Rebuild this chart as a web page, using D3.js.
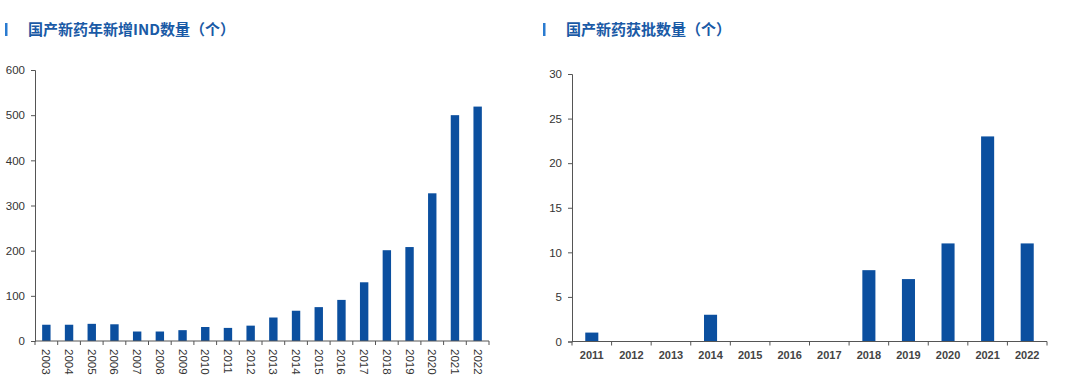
<!DOCTYPE html>
<html>
<head>
<meta charset="utf-8">
<script src="https://cdn.jsdelivr.net/npm/d3@7"></script>
<style>
  body { margin: 0; background: #fff; }
  svg text { font-family: Arial, "Liberation Sans", sans-serif; }
  .title { font-family: "Noto Sans CJK SC", sans-serif; font-weight: bold; font-size: 15px; fill: #1a5aa6; }
  .axis path, .axis line { stroke: #555; }
  .axis text { fill: #333; font-size: 11.5px; }
</style>
</head>
<body>
<svg id="chart" width="1080" height="384"></svg>
<script>
// left chart: new IND counts
const indYears = ['2003','2004','2005','2006','2007','2008','2009','2010','2011','2012',
                  '2013','2014','2015','2016','2017','2018','2019','2020','2021','2022'];
const indValues = [36, 36, 38, 37, 21, 21, 24, 31, 29, 34, 52, 67, 75, 91, 130, 201, 208, 327, 500, 519];
const indTicks = [0, 100, 200, 300, 400, 500, 600];

// right chart: approvals
const apprYears = ['2011','2012','2013','2014','2015','2016','2017','2018','2019','2020','2021','2022'];
const apprValues = [1, 0, 0, 3, 0, 0, 0, 8, 7, 11, 23, 11];
const apprTicks = [0, 5, 10, 15, 20, 25, 30];

const svg = d3.select('#chart');
const barColor = '#0b4f9f';

function drawChart(opt) {
    let g = svg.append('g');

    // title with small marker bar
    g.append('rect')
        .attr('x', opt.titleX - 23).attr('y', 23)
        .attr('width', 2.5).attr('height', 13)
        .attr('fill', '#2a7bd0');
    g.append('text')
        .classed('title', true)
        .attr('x', opt.titleX).attr('y', 35)
        .text(opt.title);

    let x = d3.scaleBand()
        .domain(opt.cats)
        .range([opt.left, opt.right])
        .paddingInner(opt.pad).paddingOuter(opt.pad / 2);

    let y = d3.scaleLinear()
        .domain([0, d3.max(opt.ticks)])
        .range([opt.bottom, opt.top]);

    g.selectAll('rect.bar')
        .data(opt.values)
        .join('rect')
        .classed('bar', true)
        .attr('x', (d, i) => x(opt.cats[i]))
        .attr('y', d => y(d))
        .attr('width', x.bandwidth())
        .attr('height', d => opt.bottom - y(d))
        .attr('fill', barColor);

    // y axis
    let yAxis = g.append('g')
        .classed('axis', true)
        .attr('transform', `translate(${opt.left},0)`)
        .call(d3.axisLeft(y).tickValues(opt.ticks).tickSize(4).tickSizeOuter(4));
    yAxis.selectAll('text').attr('dx', '-3');

    // x axis: ticks between categories
    let step = x.step();
    let xg = g.append('g')
        .classed('axis', true)
        .attr('transform', `translate(0,${opt.bottom})`);
    xg.append('line')
        .attr('x1', opt.left).attr('x2', opt.right)
        .attr('stroke', '#555');
    xg.selectAll('line.tk')
        .data(d3.range(opt.cats.length + 1))
        .join('line')
        .classed('tk', true)
        .attr('x1', i => opt.left + i * step)
        .attr('x2', i => opt.left + i * step)
        .attr('y2', 4)
        .attr('stroke', '#555');

    let labels = xg.selectAll('text')
        .data(opt.cats)
        .join('text')
        .style('font-size', opt.rotate ? '11.5px' : '11px')
        .style('fill', '#333')
        .text(d => d);

    if (opt.rotate) {
        labels
            .attr('transform', d => `translate(${x(d) + x.bandwidth() / 2},8) rotate(90)`)
            .attr('text-anchor', 'start')
            .attr('dy', '0.35em');
    } else {
        labels
            .attr('x', d => x(d) + x.bandwidth() / 2)
            .attr('y', 17)
            .attr('text-anchor', 'middle')
            .style('font-weight', 'bold')
            .style('fill', '#444');
    }
}

drawChart({
    title: '国产新药年新增IND数量（个）',
    titleX: 28,
    cats: indYears, values: indValues, ticks: indTicks,
    left: 35, right: 489, top: 70, bottom: 341,
    pad: 0.63, rotate: true
});

drawChart({
    title: '国产新药获批数量（个）',
    titleX: 566,
    cats: apprYears, values: apprValues, ticks: apprTicks,
    left: 572, right: 1047, top: 74, bottom: 341.5,
    pad: 0.67, rotate: false
});
</script>
</body>
</html>
